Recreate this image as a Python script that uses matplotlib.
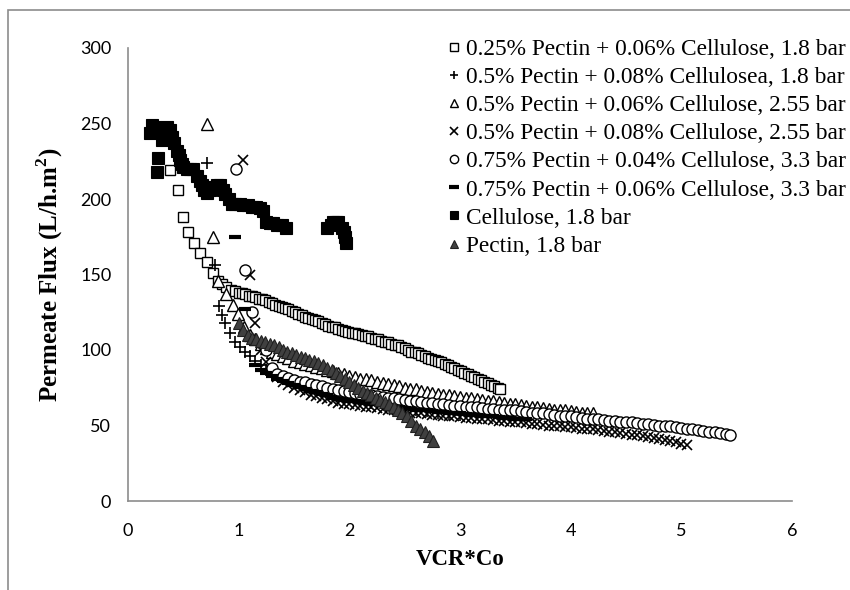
import matplotlib
matplotlib.use("Agg")
import matplotlib.pyplot as plt
from matplotlib.patches import Rectangle

# ---------------- data ----------------
sq_x = [0.38,0.45,0.50,0.54,0.60,0.65,0.71,0.77,0.81,0.85,0.89,0.93,0.97,
        1.00,1.03,1.06,1.09,1.12,1.15,1.18,1.21,1.24,1.27,1.30,1.33,1.36,1.39,1.42,1.45,1.48,1.51,1.54,1.57,
        1.60,1.63,1.66,1.69,1.72,1.75,1.78,1.81,1.84,1.87,1.90,1.93,1.96,1.99,2.02,2.05,2.08,2.11,2.14,2.17,
        2.20,2.23,2.26,2.29,2.32,2.35,2.38,2.41,2.44,2.47,2.50,2.53,2.56,2.59,2.62,2.65,2.68,2.71,2.74,2.77,
        2.80,2.83,2.86,2.89,2.92,2.95,2.98,3.01,3.04,3.07,3.10,3.13,3.16,3.19,3.22,3.25,3.28,3.31,3.34,3.36]
sq_y = [219,206,188,178,171,164,158,151,146,144,142,140,139,
        138,137.5,137,136,135.5,135,134,133.5,133,132,131,130,129,128.5,128,127,126,125,124,123,
        122,121,120.5,120,119,118,117,116,115.5,115,114,113,112.5,112,111.5,111,110.5,110,109.5,109,
        108,107.5,107,106,105.5,105,104,103.5,103,102,101,100,99,98.5,98,97,96,95,94,93.5,
        93,92,91,90,89,88,87,86,85,84,83,82,81,80,79,78,77,76,75,74]

plus_x = [0.71,0.79,0.82,0.85,0.88,0.92,0.97,1.01,1.06,1.10,1.15,1.20,1.25,1.30,1.35,1.40,1.45,1.50,1.55,1.60,
          1.65,1.70,1.75,1.80,1.85,1.90,1.95,2.00,2.10,2.20,2.30,2.40,2.50,2.60,2.70,2.80,2.90,3.00]
plus_y = [224,156,129,123,118,111,105,102,99,96,93,90,87,85,83,81,79.5,78,77,75.5,
          74.5,73.5,72.5,71.5,70.5,69.5,68.5,68,66.5,65,64,62.5,61.5,60.5,59.5,58.5,57.5,57]

tri_x = [0.71,0.77,0.81,0.89,0.95,0.99,1.05,1.10,1.15,1.20,1.25,1.30,1.35,1.40,1.45,1.50,1.55,1.60,1.65,1.70,
         1.75,1.80,1.85,1.90,1.95,2.00,2.05,2.10,2.15,2.20,2.25,2.30,2.35,2.40,2.45,2.50,2.55,2.60,2.65,2.70,
         2.75,2.80,2.85,2.90,2.95,3.00,3.05,3.10,3.15,3.20,3.25,3.30,3.35,3.40,3.45,3.50,3.55,3.60,3.65,3.70,
         3.75,3.80,3.85,3.90,3.95,4.00,4.05,4.10,4.15,4.20]
tri_y = [250,175,146,137,130,124,115,110,107,104,101.5,99,97.5,96,94.5,93,92,91,90,89,
         88,87,86,85,84,83,82,81,80.5,80,79,78,77.5,77,76,75,74.5,74,73,72,
         71.5,71,70.5,70,69.5,69,68.5,68,67.5,67,66.5,66,65.5,65,64.5,64,63.5,63,62.5,62,
         61.5,61,60.5,60,60,59.5,59,58.5,58,58]

x_x = [1.04,1.10,1.15,1.20,1.25,1.30,1.35,1.40,1.45,1.50,1.55,1.60,1.65,1.70,1.75,1.80,1.85,1.90,1.95,2.00,
       2.05,2.10,2.15,2.20,2.25,2.30,2.35,2.40,2.45,2.50,2.55,2.60,2.65,2.70,2.75,2.80,2.85,2.90,2.95,3.00,
       3.05,3.10,3.15,3.20,3.25,3.30,3.35,3.40,3.45,3.50,3.55,3.60,3.65,3.70,3.75,3.80,3.85,3.90,3.95,4.00,
       4.05,4.10,4.15,4.20,4.25,4.30,4.35,4.40,4.45,4.50,4.55,4.60,4.65,4.70,4.75,4.80,4.85,4.90,4.95,5.00,5.05]
x_y = [226,150,118,100,92,86,82,79,77,75,73.5,72,70.5,69.5,68.5,67.5,66,65,64.5,64,
       63.5,63,62.5,62,61.5,61,60.5,60,59.5,59,58.5,58.5,58,57.5,57,57,56.5,56,56,55.5,
       55,55,54.5,54,54,53.5,53,53,52.5,52,52,51.5,51,51,50.5,50,50,49.5,49,49,
       48.5,48,48,47.5,47,46.5,46,45.5,45,44.5,44,43.5,43,42.5,42,41,40.5,40,39,38,37]

circ_x = [0.98,1.06,1.12,1.25,1.30,
          1.35,1.40,1.45,1.50,1.55,1.60,1.65,1.70,1.75,1.80,1.85,1.90,1.95,2.00,2.05,2.10,2.15,2.20,2.25,2.30,
          2.35,2.40,2.45,2.50,2.55,2.60,2.65,2.70,2.75,2.80,2.85,2.90,2.95,3.00,3.05,3.10,3.15,3.20,3.25,3.30,
          3.35,3.40,3.45,3.50,3.55,3.60,3.65,3.70,3.75,3.80,3.85,3.90,3.95,4.00,4.05,4.10,4.15,4.20,4.25,4.30,
          4.35,4.40,4.45,4.50,4.55,4.60,4.65,4.70,4.75,4.80,4.85,4.90,4.95,5.00,5.05,5.10,5.15,5.20,5.25,5.30,
          5.35,5.40,5.44]
circ_y = [220,153,125,100,88,
          84,83,81.5,80,79,78.5,77.5,77,76,75,74.5,73.5,73,72,71.5,71,70.5,70,69.5,69,
          68.5,68,67.5,67,66.5,66,65.5,65,65,64.5,64,63.5,63,63,62.5,62,62,61.5,61,61,
          60.5,60.5,60,60,59.5,59,58.5,58,58,57.5,57,56.5,56,56,55.5,55,54.5,54,54,53.5,
          53,53,52.5,52.5,52,51.5,51,51,50.5,50,49.5,49.5,49,48.5,48,47.5,47,46.5,46,45.5,
          45,44.5,44]

dash_x = [0.97,1.06,1.15,1.20,1.25,1.30,1.35,1.40,1.45,1.50,1.55,1.60,1.65,1.70,1.75,1.80,1.85,1.90,1.95,2.00,
          2.05,2.10,2.15,2.20,2.25,2.30,2.35,2.40,2.45,2.50,2.55,2.60,2.65,2.70,2.75,2.80,2.85,2.90,2.95,3.00,
          3.05,3.10,3.15,3.20,3.25,3.30,3.35,3.40,3.45,3.50,3.55,3.60]
dash_y = [175,127,90,87,85,83,81,79.5,78,77,75.5,74.5,73,72,71,70,68.5,67.5,67,66.5,
          66,65.5,65,64.5,64,63.5,63,62.5,62,61.5,61,60.5,60,60,59.5,59,59,58.5,58,58,
          57.5,57,57,56.5,56,56,55.5,55,55,54.5,54,54]

cel_x = [0.20,0.22,0.24,0.26,0.27,0.29,0.31,0.31,0.33,0.35,0.38,0.40,0.42,0.44,0.46,0.47,0.49,0.50,0.53,0.56,
         0.59,0.62,0.65,0.67,0.69,0.71,0.74,0.77,0.80,0.83,0.86,0.88,0.91,0.94,0.97,1.01,1.04,1.08,1.12,1.16,
         1.19,1.22,1.25,1.28,1.31,1.35,1.39,1.43,1.80,1.83,1.85,1.88,1.90,1.93,1.95,1.96,1.97]
cel_y = [244,249,248,218,227,245,246,239,246,248,246,241,237,232,229,226,223,221,220,220,
         220,215,212,209,206,204,206,208,209,209,206,203,200,197,197,197,196,196,195,195,
         194,192,185,184,184,183,183,181,181,183,185,185,185,181,178,175,171]

pec_x = [1.00,1.04,1.08,1.12,1.16,1.20,1.24,1.28,1.32,1.36,1.40,1.44,1.48,1.52,1.56,1.60,1.64,1.68,1.72,1.76,
         1.80,1.84,1.88,1.92,1.96,2.00,2.04,2.08,2.12,2.16,2.20,2.24,2.28,2.32,2.36,2.40,2.44,2.48,2.52,2.56,
         2.60,2.64,2.68,2.72,2.76]
pec_y = [118,113,110,108,107,106,105,104,103,102,100,99,98,97,95.5,94.5,93.5,92.5,91.5,90,
         88,86.5,85,83,81,79,77,75,73,71.5,70,68.5,67,65.5,64,62,60,58.5,56,53,
         50,48,45.5,43,40]

labels = ["0.25% Pectin + 0.06% Cellulose, 1.8 bar",
          "0.5% Pectin + 0.08% Cellulosea, 1.8 bar",
          "0.5% Pectin + 0.06% Cellulose, 2.55 bar",
          "0.5% Pectin + 0.08% Cellulose, 2.55 bar",
          "0.75% Pectin + 0.04% Cellulose, 3.3 bar",
          "0.75% Pectin + 0.06% Cellulose, 3.3 bar",
          "Cellulose, 1.8 bar",
          "Pectin, 1.8 bar"]

x_ticks = [0, 1, 2, 3, 4, 5, 6]
y_ticks = [0, 50, 100, 150, 200, 250, 300]

# ---------------- figure ----------------
fig = plt.figure(figsize=(8.5, 5.9), dpi=100)
ax = fig.add_axes([128/850, 1-501/590, (792-128)/850, (501-48)/590])

serif = "Liberation Serif"
tickfont = "Lato"

ax.plot(sq_x, sq_y, ls="none", marker="s", ms=7.5, mfc="white", mec="black", mew=1.0, label=labels[0])
ax.plot(plus_x, plus_y, ls="none", marker="+", ms=8, mec="black", mew=1.2, label=labels[1])
ax.plot(tri_x, tri_y, ls="none", marker="^", ms=8, mfc="white", mec="black", mew=1.0, label=labels[2])
ax.plot(x_x, x_y, ls="none", marker="x", ms=7, mec="black", mew=1.2, label=labels[3])
ax.plot(circ_x, circ_y, ls="none", marker="o", ms=8, mfc="white", mec="black", mew=1.0, label=labels[4])
ax.plot(dash_x, dash_y, ls="none", marker="_", ms=9, mec="black", mew=3.0, label=labels[5])
ax.plot(cel_x, cel_y, ls="none", marker="s", ms=8.5, mfc="black", mec="black", mew=0.8, label=labels[6])
ax.plot(pec_x, pec_y, ls="none", marker="^", ms=8.5, mfc="#404040", mec="#202020", mew=0.8, label=labels[7])

ax.set_xlim(0, 6)
ax.set_ylim(0, 300)
ax.set_xticks(x_ticks)
ax.set_yticks(y_ticks)
ax.tick_params(length=0, labelsize=13)
ax.tick_params(axis="x", pad=16)
ax.tick_params(axis="y", pad=12)
for t in ax.get_xticklabels() + ax.get_yticklabels():
    t.set_fontfamily(tickfont)
for s in ["top", "right"]:
    ax.spines[s].set_visible(False)
for s in ["left", "bottom"]:
    ax.spines[s].set_color("#8c8c8c")
    ax.spines[s].set_linewidth(1.2)

ax.set_xlabel("VCR*Co", fontfamily=serif, fontweight="bold", fontsize=16.5, labelpad=7)
ax.set_ylabel("Permeate Flux (L/h.m$^\\mathregular{2}$)", fontfamily=serif, fontweight="bold",
              fontsize=18, labelpad=11)

leg = ax.legend(loc="upper left", bbox_to_anchor=(436/850, 1-27/590), bbox_transform=fig.transFigure,
                frameon=False, prop={"family": serif, "size": 16.8}, handlelength=0.5, handletextpad=0.3,
                labelspacing=0.29, borderpad=0, markerscale=0.75)

# outer border of the chart area (partially cropped)
fig.patches.append(Rectangle((8/850, -0.05), 1.2, 1-10/590+0.05, transform=fig.transFigure,
                             fill=False, edgecolor="#8c8c8c", linewidth=1.2))

fig.savefig("out.png", dpi=100)
